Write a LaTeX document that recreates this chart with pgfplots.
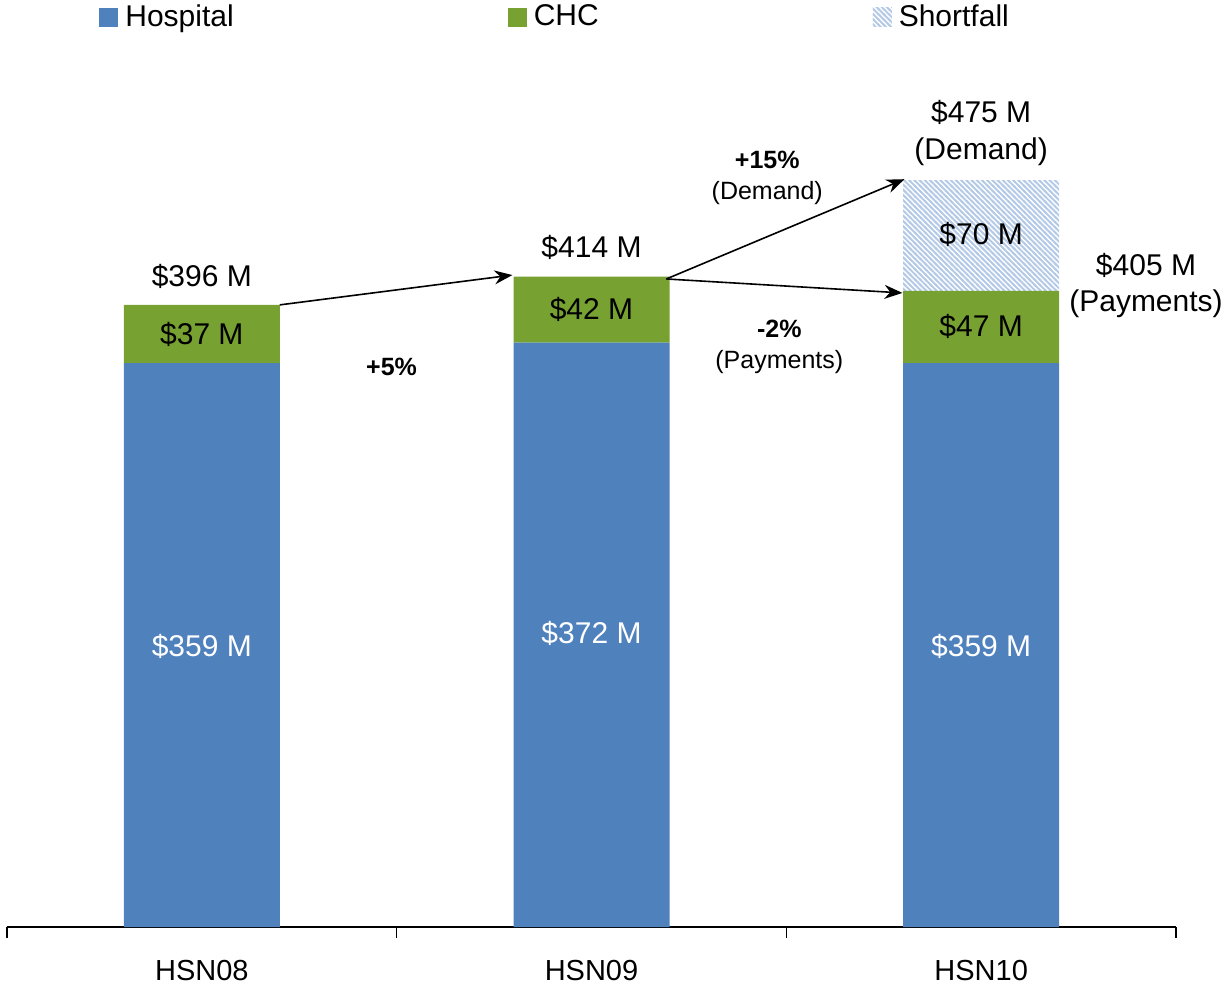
\documentclass[border=0pt]{standalone}
\usepackage{pgfplots}
\pgfplotsset{compat=1.18}
\usepackage{fontspec}
\setmainfont{Liberation Sans}
\usetikzlibrary{arrows.meta,patterns}
\definecolor{hospblue}{RGB}{79,129,189}
\definecolor{chcgreen}{RGB}{119,161,48}
\definecolor{hatchblue}{RGB}{180,202,230}
\pgfdeclarepatternformonly{thicknwlines}{\pgfqpoint{-1pt}{-1pt}}{\pgfqpoint{3.5pt}{3.5pt}}{\pgfqpoint{2.6pt}{2.6pt}}{
  \pgfsetlinewidth{0.95pt}
  \pgfpathmoveto{\pgfqpoint{-0.5pt}{3.1pt}}
  \pgfpathlineto{\pgfqpoint{3.1pt}{-0.5pt}}
  \pgfusepath{stroke}
}
\pgfplotsset{common/.style={
  at={(3.5pt,30pt)}, anchor=south west,
  scale only axis, width=584.5pt, height=392.75pt,
  xmin=-0.5, xmax=2.5, ymin=0, ymax=500,
  clip=false}}
\begin{document}
\begin{tikzpicture}
\useasboundingbox (0,0) rectangle (615pt,493.5pt);
\begin{axis}[
  common,
  ybar stacked, bar width=78pt,
  axis x line=bottom, axis y line=none,
  axis line style={line width=0.8pt},
  x axis line style={-},
  xtick={0,1,2}, xticklabels={HSN08,HSN09,HSN10},
  minor xtick={-0.5,0.5,1.5,2.5},
  major tick length=0pt, minor tick length=5.5pt,
  tick align=outside,
  tick style={black, line width=0.8pt},
  xticklabel style={anchor=base, yshift=-26.5pt, font=\fontsize{14.5}{17}\selectfont},
  legend columns=3,
  legend style={at={(rel axis cs:0.0787,1.1585)}, anchor=west, draw=none, fill=none,
    inner sep=0pt, font=\fontsize{15}{18}\selectfont,
    /tikz/every odd column/.append style={column sep=1.5pt},
    /tikz/every even column/.append style={column sep=135pt},
    cells={anchor=west}},
  legend image code/.code={\fill[#1] (0pt,-4.75pt) rectangle (9.5pt,4.75pt);},
]
\addplot[fill=hospblue, draw=none] coordinates {(0,359) (1,372) (2,359)};
\addlegendentry{Hospital}
\addplot[fill=chcgreen, draw=none] coordinates {(0,37) (1,42) (2,46)};
\addlegendentry{CHC}
\addplot[draw=none, pattern=thicknwlines, pattern color=hatchblue] coordinates {(0,0) (1,0) (2,70)};
\addlegendentry{Shortfall}
\end{axis}
\begin{axis}[common, hide axis]
\draw[line width=0.8pt, -{Stealth[length=9pt,width=7pt]}] (axis cs:0.2,396) -- (axis cs:0.797,415);
\draw[line width=0.8pt, -{Stealth[length=9pt,width=7pt]}] (axis cs:1.192,412.5) -- (axis cs:1.803,476);
\draw[line width=0.8pt, -{Stealth[length=9pt,width=7pt]}] (axis cs:1.192,412.5) -- (axis cs:1.798,403.6);

\node[font=\fontsize{15}{18}\selectfont] at (axis cs:0,414.4) {\$396 M};
\node[font=\fontsize{15}{18}\selectfont] at (axis cs:0,377.5) {\$37 M};
\node[font=\fontsize{15}{18}\selectfont, white] at (axis cs:0,178.9) {\$359 M};
\node[font=\fontsize{15}{18}\selectfont] at (axis cs:1,432.8) {\$414 M};
\node[font=\fontsize{15}{18}\selectfont] at (axis cs:1,393.4) {\$42 M};
\node[font=\fontsize{15}{18}\selectfont, white] at (axis cs:1,187.1) {\$372 M};
\node[font=\fontsize{15}{18}\selectfont] at (axis cs:2,518.8) {\$475 M};
\node[font=\fontsize{15}{18}\selectfont] at (axis cs:2,493.5) {(Demand)};
\node[font=\fontsize{15}{18}\selectfont] at (axis cs:2,441.1) {\$70 M};
\node[font=\fontsize{15}{18}\selectfont] at (axis cs:2,382.6) {\$47 M};
\node[font=\fontsize{15}{18}\selectfont, white] at (axis cs:2,178.9) {\$359 M};
\node[font=\fontsize{15}{18}\selectfont] at (axis cs:2.423,421.4) {\$405 M};
\node[font=\fontsize{15}{18}\selectfont] at (axis cs:2.423,396.5) {(Payments)};
\node[font=\fontsize{12.5}{15}\selectfont\bfseries] at (axis cs:0.487,356.5) {+5\%};
\node[font=\fontsize{12.5}{15}\selectfont\bfseries] at (axis cs:1.451,488.2) {+15\%};
\node[font=\fontsize{12.5}{15}\selectfont] at (axis cs:1.451,467.5) {(Demand)};
\node[font=\fontsize{12.5}{15}\selectfont\bfseries] at (axis cs:1.482,380.6) {-2\%};
\node[font=\fontsize{12.5}{15}\selectfont] at (axis cs:1.482,359.5) {(Payments)};
\end{axis}
\end{tikzpicture}
\end{document}
